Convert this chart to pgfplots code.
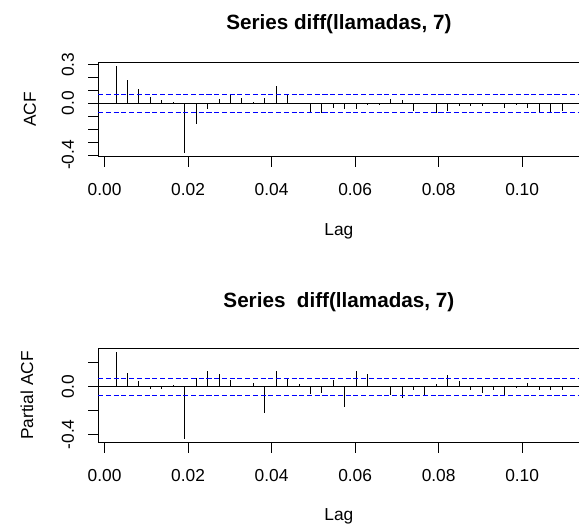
\documentclass[border=0pt]{standalone}
\usepackage{pgfplots}
\pgfplotsset{compat=1.18}
\usepackage{fontspec}
\setmainfont{Liberation Sans}

\pgfplotstableread{
lag acf
0.00274 0.291
0.00548 0.181
0.00822 0.111
0.01096 0.049
0.01370 0.023
0.01644 0.013
0.01918 -0.386
0.02192 -0.163
0.02466 -0.047
0.02740 0.031
0.03014 0.070
0.03288 0.039
0.03562 0.013
0.03836 0.039
0.04110 0.132
0.04384 0.070
0.04658 0.003
0.04932 -0.078
0.05205 -0.072
0.05479 -0.039
0.05753 -0.047
0.06027 -0.047
0.06301 -0.010
0.06575 -0.010
0.06849 0.031
0.07123 0.023
0.07397 -0.057
0.07671 0.002
0.07945 -0.072
0.08219 -0.057
0.08493 -0.020
0.08767 -0.020
0.09041 -0.020
0.09315 0.001
0.09589 -0.039
0.09863 -0.010
0.10137 -0.039
0.10411 -0.075
0.10685 -0.070
0.10959 -0.057
}\acftable

\pgfplotstableread{
lag pacf
0.00274 0.292
0.00548 0.114
0.00822 0.050
0.01096 -0.017
0.01370 -0.017
0.01644 0.014
0.01918 -0.439
0.02192 0.070
0.02466 0.131
0.02740 0.103
0.03014 0.059
0.03288 0.003
0.03562 0.033
0.03836 -0.220
0.04110 0.131
0.04384 0.073
0.04658 0.022
0.04932 -0.059
0.05205 -0.050
0.05479 0.059
0.05753 -0.173
0.06027 0.131
0.06301 0.106
0.06575 0.002
0.06849 -0.070
0.07123 -0.095
0.07397 -0.031
0.07671 -0.073
0.07945 0.022
0.08219 0.098
0.08493 0.047
0.08767 -0.031
0.09041 -0.050
0.09315 -0.031
0.09589 -0.070
0.09863 -0.014
0.10137 0.028
0.10411 -0.031
0.10685 -0.031
0.10959 -0.031
}\pacftable

\pgfplotsset{
  racf/.style={
    scale only axis,
    width=361.35pt,
    height=70.8pt,
    xmin=-0.001534, xmax=0.11386,
    axis line style={black, line width=0.75pt},
    tick align=outside,
    xtick pos=left, ytick pos=left,
    major tick length=7.5pt,
    every tick/.style={black, line width=0.75pt},
    xtick={0,0.02,0.04,0.06,0.08,0.10},
    xticklabels={0.00,0.02,0.04,0.06,0.08,0.10},
    tick label style={font=\fontsize{13}{15}\selectfont},
    xticklabel style={anchor=north, inner sep=0pt, yshift=-12pt},
    yticklabel style={xshift=-10.5pt, rotate=90, anchor=south, inner sep=0pt},
  }
}

\begin{document}
\begin{tikzpicture}

% ---------- ACF ----------
\begin{axis}[racf,
  at={(73.65pt,276.225pt)}, anchor=south west,
  ymin=-0.413, ymax=0.318,
  ytick={-0.4,-0.3,-0.2,-0.1,0,0.1,0.2,0.3},
  yticklabels={-0.4,{},{},{},0.0,{},{},0.3},
]
\addplot[black, line width=0.75pt, ycomb, no marks] table[x=lag, y=acf] {\acftable};
\addplot[black, line width=0.75pt, no marks] coordinates {(-0.001534,0) (0.11386,0)};
\addplot[blue, line width=0.75pt, dash pattern=on 3.8pt off 2pt, no marks] coordinates {(-0.001534,0.072) (0.11386,0.072)};
\addplot[blue, line width=0.75pt, dash pattern=on 3.8pt off 2pt, no marks] coordinates {(-0.001534,-0.072) (0.11386,-0.072)};
\end{axis}

% ---------- PACF ----------
\begin{axis}[racf,
  at={(73.65pt,61.725pt)}, anchor=south west,
  ymin=-0.469, ymax=0.321,
  ytick={-0.4,-0.2,0,0.2},
  yticklabels={-0.4,{},0.0,{}},
]
\addplot[black, line width=0.75pt, ycomb, no marks] table[x=lag, y=pacf] {\pacftable};
\addplot[black, line width=0.75pt, no marks] coordinates {(-0.001534,0) (0.11386,0)};
\addplot[blue, line width=0.75pt, dash pattern=on 3.8pt off 2pt, no marks] coordinates {(-0.001534,0.072) (0.11386,0.072)};
\addplot[blue, line width=0.75pt, dash pattern=on 3.8pt off 2pt, no marks] coordinates {(-0.001534,-0.072) (0.11386,-0.072)};
\end{axis}

% ---------- titles and labels ----------
\node[font=\fontsize{15.5}{18}\selectfont\bfseries] at (254.175pt,375.75pt) {Series diff(llamadas, 7)};
\node[font=\fontsize{15.5}{18}\selectfont\bfseries] at (254.175pt,167.25pt) {Series\ \ diff(llamadas, 7)};
\node[font=\fontsize{13}{15}\selectfont] at (254.175pt,220.5pt) {Lag};
\node[font=\fontsize{13}{15}\selectfont] at (254.175pt,6.75pt) {Lag};
\node[font=\fontsize{13}{15}\selectfont, rotate=90] at (22.5pt,311.625pt) {ACF};
\node[font=\fontsize{13}{15}\selectfont, rotate=90] at (20.25pt,97.125pt) {Partial ACF};

\pgfresetboundingbox
\path[use as bounding box] (0pt,0pt) rectangle (434.25pt,393.75pt);
\end{tikzpicture}
\end{document}
